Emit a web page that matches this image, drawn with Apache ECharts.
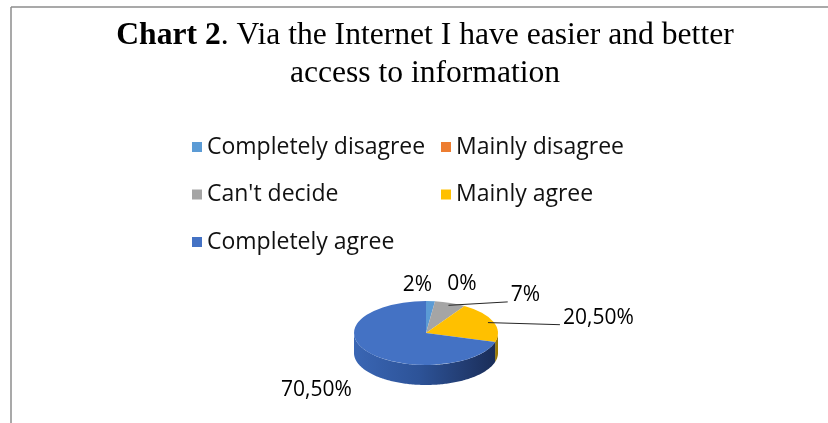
<!DOCTYPE html>
<html>
<head>
<meta charset="utf-8">
<script src="https://cdn.jsdelivr.net/npm/echarts@6/dist/echarts.min.js"></script>
<style>
  html, body { margin: 0; padding: 0; background: #fff; }
  #chart { width: 828px; height: 423px; }
</style>
</head>
<body>
<div id="chart"></div>
<script>
// Survey answers: "Via the Internet I have easier and better access to information"
const categories = ['Completely disagree', 'Mainly disagree', "Can't decide", 'Mainly agree', 'Completely agree'];
const shares = [2, 0, 7, 20.5, 70.5];
const colors = ['#5B9BD5', '#ED7D31', '#A5A5A5', '#FFC000', '#4472C4'];
const sideColors = ['#3F78AE', '#B85A1E', '#7D7D7D', '#9A7800', null];
const titleBold = 'Chart 2';
const titleRest = '. Via the Internet I have easier and better\naccess to information';

// Geometry of the tilted pie (top face ellipse + rim thickness)
const PIE = { cx: 426, cy: 333, rx: 72, ry: 32, depth: 20 };
// Label placement relative to each slice's rim point, plus leader-line settings
const labelLayout = [
  { dx: -13, dy: -16, leader: false },
  { dx: 27, dy: -17, leader: false },
  { dx: 75, dy: -8, leader: true, lead: 7 },
  { dx: 105, dy: -4, leader: true, lead: 7 },
  { dx: -52, dy: 38, leader: false }
];
const LABEL_FONT = 21;

const total = shares.reduce((a, b) => a + b, 0);
const fmt = v => (Number.isInteger(v) ? String(v) : v.toFixed(2).replace('.', ',')) + '%';
const TAU = Math.PI * 2;

function rimPoint(theta, k) {
  // theta measured clockwise from 12 o'clock
  return [PIE.cx + k * PIE.rx * Math.sin(theta), PIE.cy - k * PIE.ry * Math.cos(theta)];
}

function makeRender(idx) {
  return function (params, api) {
    const value = api.value(0);
    let before = 0;
    for (let j = 0; j < idx; j++) before += shares[j];
    const a0 = before / total * TAU;
    const a1 = a0 + value / total * TAU;
    const color = api.visual('color');
    const children = [];

    // front rim (visible part lies between 3 and 9 o'clock, lower half)
    const s = Math.max(a0, Math.PI / 2), e = Math.min(a1, Math.PI * 1.5);
    if (e > s) {
      const pts = [];
      const n = Math.max(2, Math.ceil((e - s) / 0.02));
      for (let k = 0; k <= n; k++) pts.push(rimPoint(s + (e - s) * k / n, 1));
      for (let k = n; k >= 0; k--) {
        const p = rimPoint(s + (e - s) * k / n, 1);
        pts.push([p[0], p[1] + PIE.depth]);
      }
      const fill = sideColors[idx] || {
        type: 'linear', global: true,
        x: PIE.cx - PIE.rx, y: 0, x2: PIE.cx + PIE.rx, y2: 0,
        colorStops: [
          { offset: 0, color: '#3A66B4' },
          { offset: 0.45, color: '#2D5398' },
          { offset: 1, color: '#1A2C56' }
        ]
      };
      children.push({ type: 'polygon', shape: { points: pts }, style: { fill: fill }, z2: 1 });
    }

    // top face
    if (a1 > a0) {
      children.push({
        type: 'sector',
        x: PIE.cx, y: PIE.cy, scaleY: PIE.ry / PIE.rx,
        shape: { cx: 0, cy: 0, r: PIE.rx, r0: 0, startAngle: a0 - Math.PI / 2, endAngle: a1 - Math.PI / 2, clockwise: true },
        style: { fill: color },
        z2: 2
      });
    }

    // value label
    const mid = (a0 + a1) / 2;
    const rim = rimPoint(mid, 1);
    const L = labelLayout[idx];
    const lx = rim[0] + L.dx, ly = rim[1] + L.dy;
    const text = fmt(value);
    if (L.leader) {
      const start = rimPoint(mid, 0.92);
      const tw = echarts.format.getTextRect
        ? echarts.format.getTextRect(text, LABEL_FONT + 'px "Open Sans"').width
        : text.length * LABEL_FONT * 0.55;
      children.push({
        type: 'line',
        shape: { x1: start[0], y1: start[1], x2: lx - tw / 2 - 3, y2: ly + L.lead },
        style: { stroke: '#262626', lineWidth: 1 },
        z2: 5
      });
    }
    children.push({
      type: 'text', x: lx, y: ly, z2: 6,
      style: {
        text: text, fill: '#000', fontSize: LABEL_FONT, fontFamily: '"Open Sans", sans-serif',
        align: 'center', verticalAlign: 'middle'
      }
    });
    return { type: 'group', children: children };
  };
}

const chart = echarts.init(document.getElementById('chart'), null, { renderer: 'canvas' });

const legendCommon = {
  orient: 'vertical', top: 130, icon: 'rect', itemWidth: 10, itemHeight: 10,
  itemGap: 23.5, selectedMode: false, padding: 5,
  textStyle: { fontSize: 23, lineHeight: 24, color: '#111', fontFamily: '"Open Sans", sans-serif' }
};

const TITLE_FONT = { fontFamily: '"Liberation Serif", serif', fontSize: 31.6, lineHeight: 38, fill: '#000' };

chart.setOption({
  animation: false,
  backgroundColor: '#fff',
  legend: [
    Object.assign({ left: 187, data: [categories[0], categories[2], categories[4]] }, legendCommon),
    Object.assign({ left: 436, data: [categories[1], categories[3]] }, legendCommon)
  ],
  graphic: [
    { type: 'line', shape: { x1: 11, y1: 7, x2: 828, y2: 7 }, style: { stroke: '#8c8c8c', lineWidth: 1.5 } },
    { type: 'line', shape: { x1: 11, y1: 7, x2: 11, y2: 423 }, style: { stroke: '#8c8c8c', lineWidth: 1.5 } },
    {
      type: 'text', x: 425, y: 17,
      style: Object.assign({
        text: '{b|' + titleBold + '}' + titleRest,
        align: 'center', verticalAlign: 'top', fontWeight: 'normal',
        rich: { b: Object.assign({ fontWeight: 'bold' }, TITLE_FONT) }
      }, TITLE_FONT)
    }
  ],
  series: categories.map((name, i) => ({
    type: 'custom',
    name: name,
    coordinateSystem: 'none',
    itemStyle: { color: colors[i] },
    data: [[shares[i]]],
    renderItem: makeRender(i)
  }))
});
</script>
</body>
</html>
